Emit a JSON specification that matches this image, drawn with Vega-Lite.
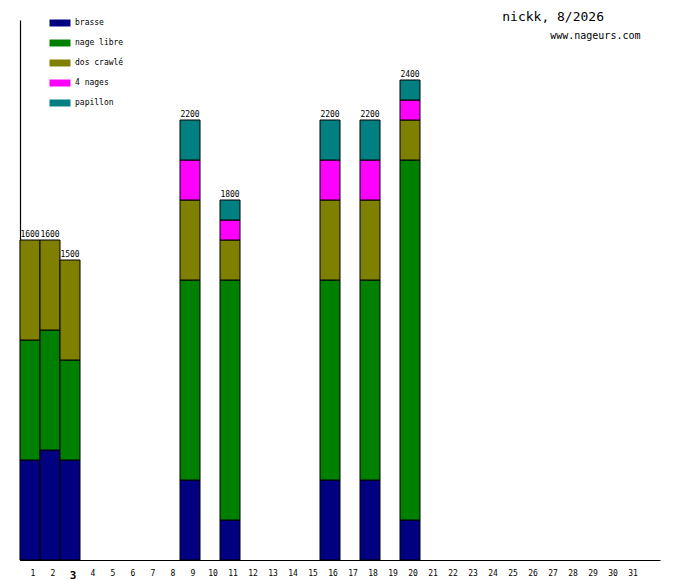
{
  "$schema": "https://vega.github.io/schema/vega-lite/v6.json",
  "autosize": "none",
  "padding": {"left": 20, "top": 20, "right": 20, "bottom": 20},
  "width": 640,
  "height": 540,
  "background": "white",
  "view": {"stroke": null},
  "config": {
    "font": "DejaVu Sans Mono",
    "axis": {"grid": false, "ticks": false, "domainColor": "black", "domainWidth": 1.2}
  },
  "title": {
    "text": "nickk, 8/2026",
    "anchor": "end",
    "frame": "group",
    "orient": "top",
    "dx": -56,
    "offset": -8,
    "font": "DejaVu Sans Mono",
    "fontSize": 13,
    "fontWeight": "normal",
    "color": "black"
  },
  "data": {
    "values": [
      {"jour": 1, "nage": "brasse", "m": 500},
      {"jour": 1, "nage": "nage libre", "m": 600},
      {"jour": 1, "nage": "dos crawlé", "m": 500},
      {"jour": 2, "nage": "brasse", "m": 550},
      {"jour": 2, "nage": "nage libre", "m": 600},
      {"jour": 2, "nage": "dos crawlé", "m": 450},
      {"jour": 3, "nage": "brasse", "m": 500},
      {"jour": 3, "nage": "nage libre", "m": 500},
      {"jour": 3, "nage": "dos crawlé", "m": 500},
      {"jour": 9, "nage": "brasse", "m": 400},
      {"jour": 9, "nage": "nage libre", "m": 1000},
      {"jour": 9, "nage": "dos crawlé", "m": 400},
      {"jour": 9, "nage": "4 nages", "m": 200},
      {"jour": 9, "nage": "papillon", "m": 200},
      {"jour": 11, "nage": "brasse", "m": 200},
      {"jour": 11, "nage": "nage libre", "m": 1200},
      {"jour": 11, "nage": "dos crawlé", "m": 200},
      {"jour": 11, "nage": "4 nages", "m": 100},
      {"jour": 11, "nage": "papillon", "m": 100},
      {"jour": 16, "nage": "brasse", "m": 400},
      {"jour": 16, "nage": "nage libre", "m": 1000},
      {"jour": 16, "nage": "dos crawlé", "m": 400},
      {"jour": 16, "nage": "4 nages", "m": 200},
      {"jour": 16, "nage": "papillon", "m": 200},
      {"jour": 18, "nage": "brasse", "m": 400},
      {"jour": 18, "nage": "nage libre", "m": 1000},
      {"jour": 18, "nage": "dos crawlé", "m": 400},
      {"jour": 18, "nage": "4 nages", "m": 200},
      {"jour": 18, "nage": "papillon", "m": 200},
      {"jour": 20, "nage": "brasse", "m": 200},
      {"jour": 20, "nage": "nage libre", "m": 1800},
      {"jour": 20, "nage": "dos crawlé", "m": 200},
      {"jour": 20, "nage": "4 nages", "m": 100},
      {"jour": 20, "nage": "papillon", "m": 100}
    ]
  },
  "transform": [
    {"calculate": "indexof(['brasse', 'nage libre', 'dos crawlé', '4 nages', 'papillon'], datum.nage)", "as": "rang"}
  ],
  "encoding": {
    "x": {
      "field": "jour",
      "type": "ordinal",
      "scale": {
        "domain": [1, 2, 3, 4, 5, 6, 7, 8, 9, 10, 11, 12, 13, 14, 15, 16, 17, 18, 19, 20, 21, 22, 23, 24, 25, 26, 27, 28, 29, 30, 31, 32],
        "paddingInner": 0,
        "paddingOuter": 0
      },
      "axis": {
        "title": null,
        "labelAngle": 0,
        "labelPadding": 9,
        "labelOffset": 3,
        "labelFont": "DejaVu Sans Mono",
        "labelFontSize": {"condition": {"test": "datum.value == 3", "value": 11}, "value": 8},
        "labelFontWeight": {"condition": {"test": "datum.value == 3", "value": "bold"}, "value": "normal"},
        "labelColor": "black",
        "labelExpr": "datum.value == 32 ? '' : datum.label"
      }
    }
  },
  "layer": [
    {
      "mark": {"type": "bar", "stroke": "black", "strokeWidth": 1},
      "encoding": {
        "y": {
          "field": "m",
          "type": "quantitative",
          "aggregate": "sum",
          "stack": "zero",
          "scale": {"domain": [0, 2700], "nice": false},
          "axis": {
            "title": "www.nageurs.com",
            "titleAngle": 0,
            "titleX": 620,
            "titleY": 20,
            "titleAlign": "right",
            "titleBaseline": "bottom",
            "titleFont": "DejaVu Sans Mono",
            "titleFontSize": 10,
            "titleFontWeight": "normal",
            "titleColor": "black",
            "labels": false
          }
        },
        "order": {"field": "rang", "type": "quantitative", "aggregate": "min", "sort": "ascending"},
        "color": {
          "field": "nage",
          "type": "nominal",
          "scale": {
            "domain": ["brasse", "nage libre", "dos crawlé", "4 nages", "papillon"],
            "range": ["#000080", "#008000", "#808000", "#ff00ff", "#008080"]
          },
          "legend": {
            "title": null,
            "orient": "none",
            "legendX": 33,
            "legendY": -4,
            "symbolType": "M-1.5,-0.5H1.5V0.5H-1.5Z",
            "symbolSize": 196,
            "symbolStrokeWidth": 0,
            "symbolOpacity": 1,
            "labelFont": "DejaVu Sans Mono",
            "labelFontSize": 8,
            "labelColor": "black",
            "labelOffset": 8,
            "rowPadding": 9
          }
        }
      }
    },
    {
      "mark": {"type": "text", "baseline": "bottom", "dy": -1, "fontSize": 8, "font": "DejaVu Sans Mono", "color": "black"},
      "encoding": {
        "y": {"field": "m", "type": "quantitative", "aggregate": "sum"},
        "text": {"field": "m", "type": "quantitative", "aggregate": "sum"}
      }
    }
  ]
}
